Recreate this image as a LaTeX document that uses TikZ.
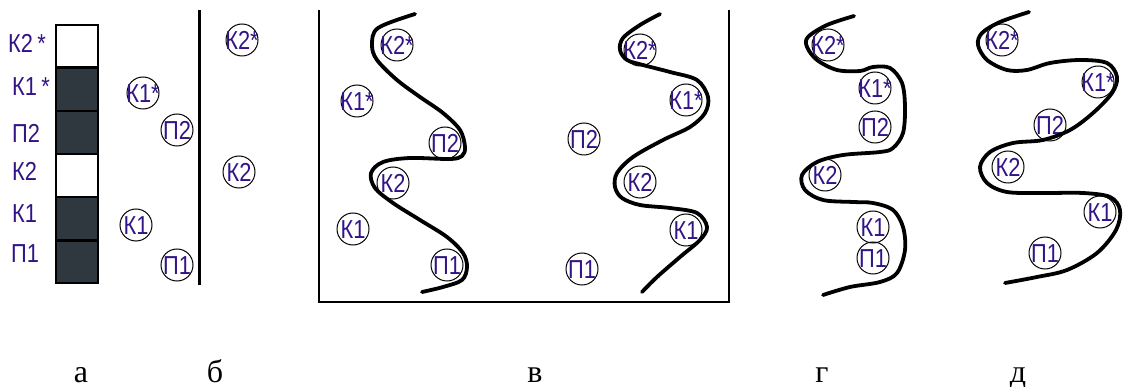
\documentclass[tikz,border=0pt]{standalone}
\usepackage{fontspec}
\setmainfont{Liberation Serif}
\newfontfamily\labelfont[FakeStretch=0.84]{Liberation Sans}
\usetikzlibrary{positioning}

\definecolor{ink}{RGB}{50,20,135}
\definecolor{slate}{RGB}{47,56,62}

\newcommand{\nowidth}[1]{\makebox[0pt]{#1}}

\begin{document}
\begin{tikzpicture}[
    x=1pt, y=-1pt,
    every node/.style={inner sep=0pt},
    tag/.style={font=\labelfont\fontsize{26}{26}\selectfont, text=ink, anchor=base west},
    cell/.style={draw, line width=1.2pt, fill=slate, minimum width=42pt, minimum height=42pt},
    ring/.style={circle, draw, line width=1pt, minimum size=32pt, text=ink,
      font=\labelfont\fontsize{26}{26}\selectfont, text height=18.6pt, text depth=0pt},
    wave/.style={line width=3.8pt, line cap=round, line join=round},
    frame/.style={line width=1.8pt},
    sub/.style={font=\fontsize{32}{32}\selectfont, anchor=base},
  ]
  \useasboundingbox (0,0) rectangle (1124,387);

  % а
  \node[cell, fill=white] (c-k2s) at (77,46) {};
  \node[cell, below=0pt of c-k2s] (c-k1s) {};
  \node[cell, below=0pt of c-k1s] (c-p2) {};
  \node[cell, fill=white, below=0pt of c-p2] (c-k2) {};
  \node[cell, below=0pt of c-k2] (c-k1) {};
  \node[cell, below=0pt of c-k1] (c-p1) {};
  \node[tag] (t-k2s) at (8,53) {К2\,*};
  \node[tag] (t-k1s) at (12,96) {К1\,*};
  \node[tag] (t-p2) at (12,143) {П2};
  \node[tag] (t-k2) at (12,181) {К2};
  \node[tag] (t-k1) at (12,223) {К1};
  \node[tag] (t-p1) at (11,263) {П1};

  % б
  \draw[line width=3pt] (199,10) -- (199,285);
  \node[ring] (b-k1s) at (143,93) {\nowidth{К1*}};
  \node[ring] (b-p2) at (177,130) {\nowidth{П2}};
  \node[ring] (b-k2s) at (242,40) {\nowidth{К2*}};
  \node[ring] (b-k2) at (239,172) {\nowidth{К2}};
  \node[ring] (b-k1) at (136,225) {\nowidth{К1}};
  \node[ring] (b-p1) at (177,265) {\nowidth{П1}};

  % в
  \draw[frame] (319,10) -- (319,302) -- (729,302) -- (729,10);
  \node[ring] (v-k2s) at (397,45) {\nowidth{К2*}};
  \node[ring] (v-k1s) at (357,101) {\nowidth{К1*}};
  \node[ring] (v-p2) at (445,143) {\nowidth{П2}};
  \node[ring] (v-k2) at (393,183) {\nowidth{К2}};
  \node[ring] (v-k1) at (353,229) {\nowidth{К1}};
  \node[ring] (v-p1) at (447,265) {\nowidth{П1}};
  \draw[wave] plot[smooth, tension=0.55] coordinates {
    (415,14) (378,28) (372,45) (377,60) (397,80) (420,97) (443,113) (460,130)
    (465,147) (462,156) (450,159) (410,158) (383,162) (371,173) (375,188)
    (393,203) (420,220) (447,237) (463,253) (467,267) (462,280) (443,287) (422,292)};
  \node[ring] (w-k2s) at (640,50) {\nowidth{К2*}};
  \node[ring] (w-k1s) at (686,100) {\nowidth{К1*}};
  \node[ring] (w-p2) at (584,139) {\nowidth{П2}};
  \node[ring] (w-k2) at (640,182) {\nowidth{К2}};
  \node[ring] (w-k1) at (686,230) {\nowidth{К1}};
  \node[ring] (w-p1) at (582,269) {\nowidth{П1}};
  \draw[wave] plot[smooth, tension=0.55] coordinates {
    (660,14) (640,25) (623,38) (620,50) (627,60) (643,65) (670,72) (697,80)
    (708,97) (705,113) (690,127) (663,140) (633,157) (617,173) (615,187)
    (622,198) (640,205) (670,208) (697,213) (707,227) (700,240) (680,257)
    (657,277) (642,292)};

  % г
  \node[ring] (g-k2s) at (828,45) {\nowidth{К2*}};
  \node[ring] (g-k1s) at (875,88) {\nowidth{К1*}};
  \node[ring] (g-p2) at (875,127) {\nowidth{П2}};
  \node[ring] (g-k2) at (825,175) {\nowidth{К2}};
  \node[ring] (g-k1) at (873,227) {\nowidth{К1}};
  \node[ring] (g-p1) at (873,258) {\nowidth{П1}};
  \draw[wave] plot[smooth, tension=0.55] coordinates {
    (854,16) (827,25) (808,37) (807,47) (817,60) (837,70) (860,71) (873,67)
    (890,68) (902,83) (905,107) (903,133) (893,148) (880,152) (843,155)
    (817,162) (802,175) (805,190) (823,200) (853,202) (873,203) (893,210)
    (903,227) (905,250) (897,273) (880,282) (850,287) (823,295)};

  % д
  \node[ring] (d-k2s) at (1002,40) {\nowidth{К2*}};
  \node[ring] (d-k1s) at (1098,82) {\nowidth{К1*}};
  \node[ring] (d-p2) at (1050,125) {\nowidth{П2}};
  \node[ring] (d-k2) at (1008,167) {\nowidth{К2}};
  \node[ring] (d-k1) at (1100,212) {\nowidth{К1}};
  \node[ring] (d-p1) at (1045,253) {\nowidth{П1}};
  \draw[wave] plot[smooth, tension=0.55] coordinates {
    (1029,12) (1000,22) (982,33) (978,45) (987,60) (1007,70) (1027,70)
    (1050,63) (1080,60) (1107,63) (1117,77) (1112,93) (1093,113) (1070,130)
    (1043,140) (1013,143) (990,152) (980,167) (987,183) (1007,192) (1043,193)
    (1083,193) (1110,197) (1120,210) (1116,230) (1097,253) (1067,270)
    (1037,277) (1005,283)};

  \node[sub] (s-a) at (81,382) {а};
  \node[sub] (s-b) at (215,382) {б};
  \node[sub] (s-v) at (535,382) {в};
  \node[sub] (s-g) at (822,382) {г};
  \node[sub] (s-d) at (1018,382) {д};
\end{tikzpicture}
\end{document}
